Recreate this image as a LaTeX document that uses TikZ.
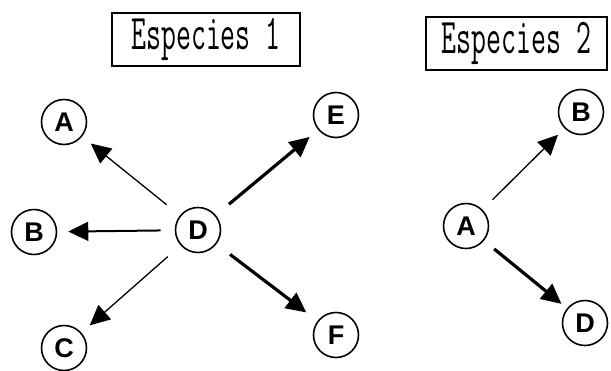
\documentclass[tikz,border=0pt]{standalone}
\usepackage{graphicx}
\usepackage{fontspec}
\newfontfamily\spotfont{Liberation Sans}
\usetikzlibrary{arrows.meta}
\begin{document}
\begin{tikzpicture}[x = 0.5pt, y = -0.5pt,
        sp/.style = {draw, circle, line width = 0.8pt, inner sep = 0pt, minimum size = 22.5pt, font = \spotfont\bfseries\fontsize{13.5}{13.5}\selectfont},
        tag/.style = {draw, line width = 0.75pt, inner sep = 0pt, minimum height = 26.5pt, font = \ttfamily\fontsize{25}{25}\selectfont},
        weak/.style = {-{Triangle[length = 10pt, width = 9.5pt]}, line width = 0.65pt, shorten < = 8.5pt, shorten > = 5.5pt},
        strong/.style = {weak, line width = 1.6pt}]
    \useasboundingbox (0, 0) rectangle (611, 370);
    % Especies 1
    \node [tag, minimum width = 94pt] (t1) at (206, 39.5) {\scalebox{0.58}[1]{Especies 1}};
    \node [sp] (d1) at (198, 230) {D};
    \node [sp] (a1) at (64, 122) {A};
    \node [sp] (b1) at (34, 232) {B};
    \node [sp] (c1) at (64, 348) {C};
    \node [sp] (e1) at (336, 115) {E};
    \node [sp] (f1) at (336, 335) {F};
    \draw [weak] (d1) -- (a1);
    \draw [weak, line width = 1pt, shorten < = 7pt] (d1) -- (b1);
    \draw [weak] (d1) -- (c1);
    \draw [strong] (d1) -- (e1);
    \draw [strong, shorten > = 7pt] (d1) -- (f1);
    % Especies 2
    \node [tag, minimum width = 90.5pt] (t2) at (516.5, 43.5) {\scalebox{0.58}[1]{Especies 2}};
    \node [sp] (a2) at (466, 226) {A};
    \node [sp] (b2) at (581, 112) {B};
    \node [sp] (d2) at (585, 323) {D};
    \draw [weak, shorten < = 7pt, shorten > = 4.5pt] (a2) -- (b2);
    \draw [strong, shorten < = 6.5pt, shorten > = 3.5pt] (a2) -- (d2);
\end{tikzpicture}
\end{document}
